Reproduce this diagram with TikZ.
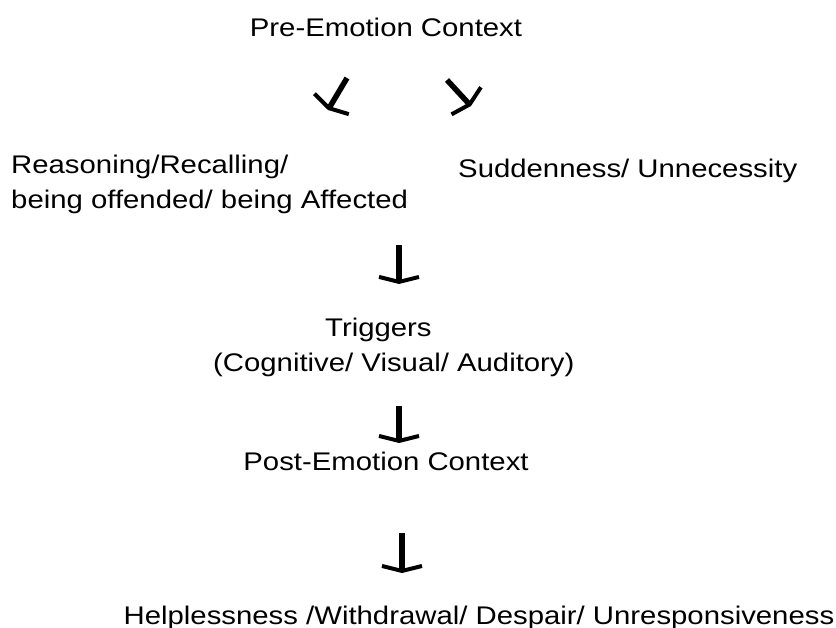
\documentclass[tikz,border=0pt]{standalone}
\usepackage{fontspec}
\setmainfont[FakeStretch = 1.15]{Liberation Sans}
\usetikzlibrary{arrows.meta}

\begin{document}
\begin{tikzpicture}[x = 1pt, y = -1pt]
\tikzstyle{labelStyle} = [inner sep = 0pt, font = \fontsize{25.5}{35}\selectfont]
\tikzstyle{arrowStyle} = [line width = 5.5pt, -{Straight Barb[length = 5pt, width = 40pt, line width = 4pt]}]
\useasboundingbox (0, 0) rectangle (836, 628);
% texts
\node[labelStyle, anchor = base] (pre) at (386, 37) {Pre-Emotion Context};
\node[labelStyle, align = left, anchor = west] (reason) at (11, 184) {Reasoning/Recalling/\\being offended/ being Affected};
\node[labelStyle, anchor = base west] (sudden) at (458, 178) {Suddenness/ Unnecessity};
\node[labelStyle, align = left, anchor = west] (trig) at (213, 347) {\hspace*{112pt}Triggers\\(Cognitive/ Visual/ Auditory)};
\node[labelStyle, anchor = base] (post) at (386, 471) {Post-Emotion Context};
\node[labelStyle, anchor = base] (help) at (479, 624) {Helplessness /Withdrawal/ Despair/ Unresponsiveness};
% arrow ends
\coordinate (l0) at (347, 78);
\coordinate (l1) at (328, 110);
\coordinate (r0) at (447, 80);
\coordinate (r1) at (471, 106);
\coordinate (d0) at (399, 245);
\coordinate (d1) at (399, 284);
\coordinate (e0) at (399, 406);
\coordinate (e1) at (399, 443);
\coordinate (f0) at (402, 533);
\coordinate (f1) at (402, 573);
\draw[arrowStyle] (l0) -- (l1);
\draw[arrowStyle] (r0) -- (r1);
\draw[arrowStyle] (d0) -- (d1);
\draw[arrowStyle] (e0) -- (e1);
\draw[arrowStyle] (f0) -- (f1);
\end{tikzpicture}
\end{document}
